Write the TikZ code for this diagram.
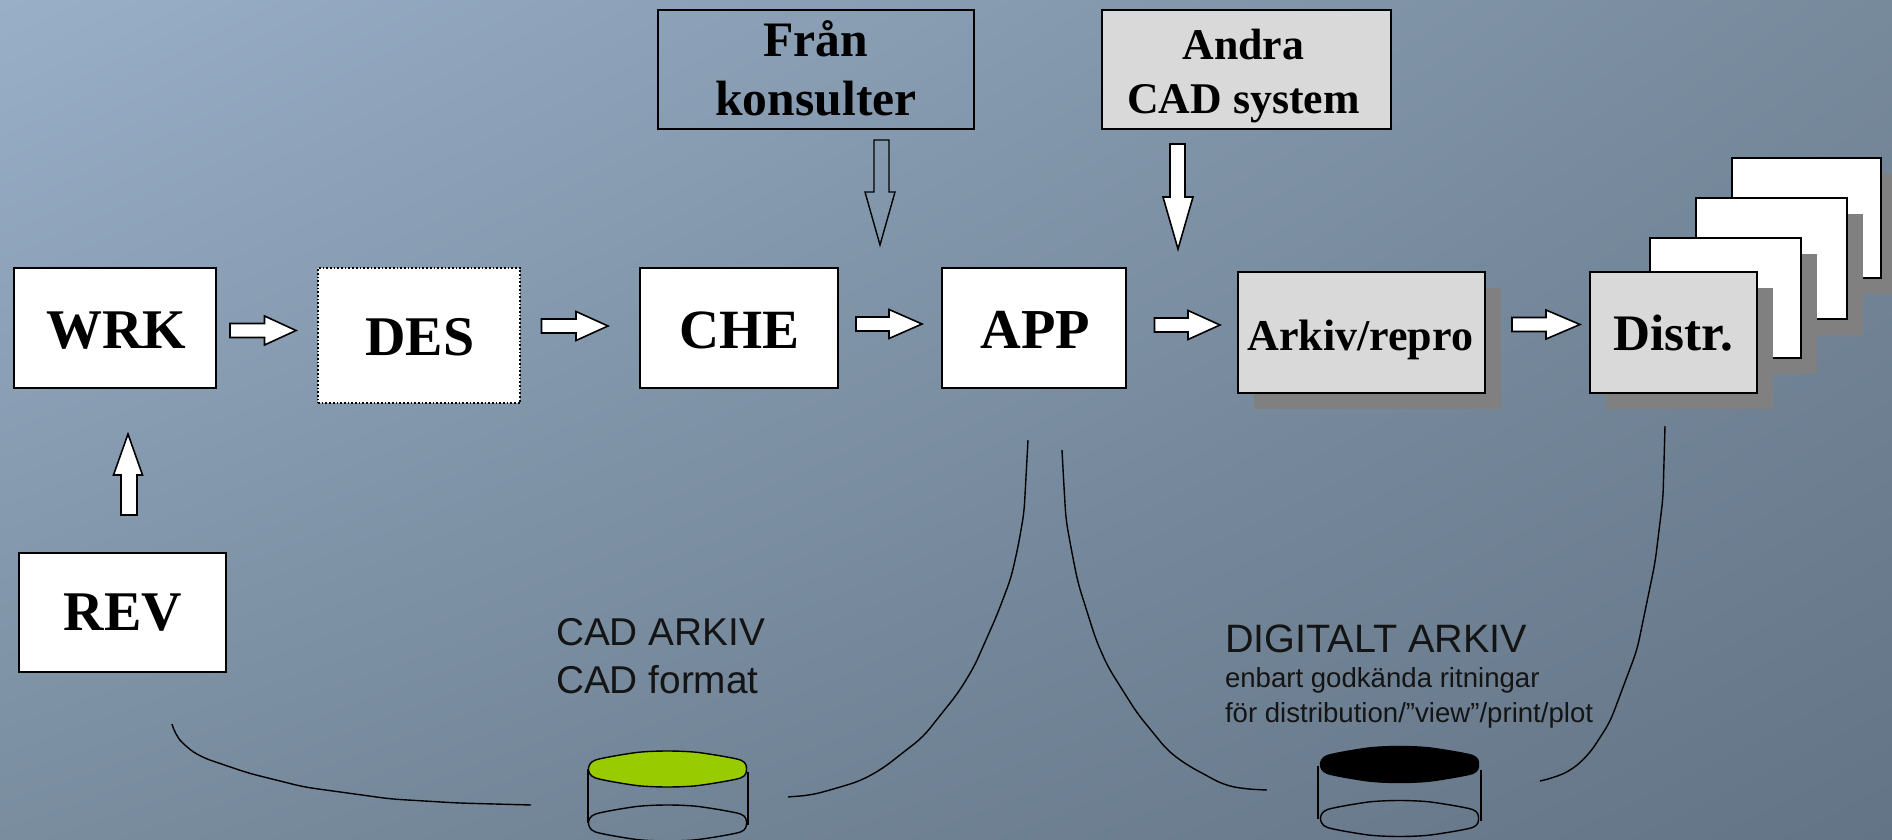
\documentclass[tikz,border=0pt]{standalone}
\usetikzlibrary{shadings}
\usepackage{fontspec}
\setmainfont{Liberation Serif}
\setsansfont{Liberation Sans}
\definecolor{bgTL}{HTML}{99AFC8}
\definecolor{bgTR}{HTML}{778A9C}
\definecolor{bgBL}{HTML}{798D9F}
\definecolor{bgBR}{HTML}{637486}
\definecolor{boxgray}{HTML}{D9D9D9}
\definecolor{shadowgray}{HTML}{808080}
\definecolor{discgreen}{HTML}{99CC00}
\tikzset{
  boxnode/.style={draw=black,line width=.85pt,inner sep=0pt,outer sep=0pt,text height=0pt,text depth=0pt,font=\bfseries},
  whitebox/.style={boxnode,fill=white},
  graybox/.style={boxnode,fill=boxgray},
  openbox/.style={boxnode},
  dotbox/.style={boxnode,fill=white,densely dotted,line width=.7pt},
  shadowbox/.style={fill=shadowgray,draw=none},
  blockarrow/.style={draw=black,fill=white,line width=.8pt,line join=miter},
  openarrow/.style={draw=black,line width=.7pt,line join=miter},
  curve/.style={draw=black,line width=.7pt,line join=round,rounded corners=5pt},
  disc/.style={draw=black,line width=.7pt,line join=round},
  sideline/.style={draw=black,line width=.7pt},
  caption/.style={inner sep=0pt,outer sep=0pt,anchor=base west,font=\sffamily,text=black!92}
}
% name, x1, y1, x2, y2, style, text centre x, baseline y, text
\newcommand\bx[9]{%
  \pgfmathsetmacro\bxcx{(#2+#4)/2}\pgfmathsetmacro\bxcy{(#3+#5)/2}%
  \pgfmathsetmacro\bxw{(#4-#2)*0.5}\pgfmathsetmacro\bxh{(#5-#3)*0.5}%
  \pgfmathsetmacro\bxdx{(#7-\bxcx)*0.5}\pgfmathsetmacro\bxdy{(\bxcy-#8)*0.5}%
  \node[#6,minimum width=\bxw pt,minimum height=\bxh pt] (#1) at (\bxcx,\bxcy)
    {\hspace*{\bxdx pt}\raisebox{\bxdy pt}{\makebox[0pt][c]{#9}}};%
}
\newcommand\shadow[4]{\fill[shadowbox] (#1+16,#2+16) rectangle (#3+16,#4+16);}
\newcommand\sz[1]{\fontsize{#1}{#1}\selectfont}
% right-pointing block arrow: x start, x head base, x tip, y
\newcommand\rarrow[4]{\draw[blockarrow] (#1,#4-7) -- (#2,#4-7) -- (#2,#4-14.5) -- (#3,#4) -- (#2,#4+14.5) -- (#2,#4+7) -- (#1,#4+7) -- cycle;}
\newcommand\cylrim[3]{\draw[disc,#3,shift={(#1,#2)}] plot[smooth cycle,tension=.45] coordinates {(-79,0) (-72,-9) (-31,-16.5) (0,-18) (31,-16.5) (73,-9) (79,0) (73,9) (31,16.5) (0,18) (-31,16.5) (-72,9)};}
\begin{document}
\begin{tikzpicture}[x=0.5pt,y=-0.5pt]
\useasboundingbox (0,0) rectangle (1892,840);
\shade[upper left=bgTL,upper right=bgTR,lower left=bgBL,lower right=bgBR] (0,0) rectangle (1892,840);

% top row
\bx{fran}{658}{10}{974}{129}{openbox}{816}{57}{\sz{24.8}\makebox[0pt][c]{Från}\raisebox{-29.5pt}{\makebox[0pt][c]{konsulter}}}
\bx{andra}{1102}{10}{1391}{129}{graybox}{1240.5}{59}{\sz{21.9}\makebox[0pt][c]{Andra}\raisebox{-27.5pt}{\makebox[0pt][c]{CAD system}}}

% process row
\bx{wrk}{14}{268}{216}{388}{whitebox}{117}{348}{\sz{28}WRK}
\bx{des}{318}{268}{520}{403}{dotbox}{421}{355}{\sz{28}DES}
\bx{che}{640}{268}{838}{388}{whitebox}{740.5}{348}{\sz{27.7}CHE}
\bx{app}{942}{268}{1126}{388}{whitebox}{1036.5}{348}{\sz{28.2}APP}
\shadow{1238}{272}{1485}{393}
\bx{ark}{1238}{272}{1485}{393}{graybox}{1359}{351}{\sz{22}Arkiv/repro}

% stacked sheets
\shadow{1732}{158}{1881}{278}
\bx{sh1}{1732}{158}{1881}{278}{whitebox}{1806}{218}{}
\shadow{1696}{198}{1847}{319}
\bx{sh2}{1696}{198}{1847}{319}{whitebox}{1771}{258}{}
\shadow{1650}{238}{1801}{358}
\bx{sh3}{1650}{238}{1801}{358}{whitebox}{1725}{298}{}
\shadow{1590}{272}{1757}{393}
\bx{dist}{1590}{272}{1757}{393}{graybox}{1673}{351}{\sz{25.6}Distr.}

\bx{rev}{19}{553}{226}{672}{whitebox}{123.5}{630}{\sz{28}REV}

% block arrows
\rarrow{230}{264.5}{296}{330.5}
\rarrow{541.5}{576}{608}{326}
\rarrow{856}{889}{922}{324}
\rarrow{1154.5}{1188}{1220}{325}
\rarrow{1512}{1546}{1580}{324.5}
\draw[blockarrow] (121,515) -- (137,515) -- (137,475) -- (142.5,475) -- (128,434) -- (113.5,475) -- (121,475) -- cycle;
\draw[openarrow] (874,140) -- (889,140) -- (889,192) -- (895,192) -- (880,245) -- (865,192) -- (874,192) -- cycle;
\draw[blockarrow] (1170,144) -- (1185,144) -- (1185,197) -- (1193,197) -- (1178,249) -- (1163,197) -- (1170,197) -- cycle;

% cylinders
\cylrim{667.5}{769}{fill=discgreen}
\cylrim{667.5}{823}{}
\draw[sideline] (588,769) -- (588,823);
\draw[sideline] (748,772) -- (748,825);
\cylrim{1399.5}{764.5}{fill=black}
\cylrim{1399.5}{818.5}{}
\draw[sideline] (1318,766) -- (1318,819);
\draw[sideline] (1481,770) -- (1481,821);

% curves
\draw[curve] (172,724) -- (174.5,734) -- (186,747) -- (201,757) -- (248,773) -- (304,787) -- (391,799) -- (458,803) -- (531,805);
\draw[curve] (788,797) -- (812,795) -- (837,788) -- (860,781) -- (882,769) -- (923,737) -- (958,693) -- (974,667) -- (997,615) -- (1011,578) -- (1018,547) -- (1024,513) -- (1026,477) -- (1028,440);
\draw[curve] (1062,450) -- (1064,487) -- (1066,520) -- (1072,553) -- (1078,583) -- (1096,640) -- (1108,667) -- (1137,713) -- (1168,751) -- (1187,765) -- (1224,785) -- (1245,789) -- (1267,790);
\draw[curve] (1665,426) -- (1663,498) -- (1655,563) -- (1637,650) -- (1610,722) -- (1590,753) -- (1572,770) -- (1553,778) -- (1540,781);

% captions
\node[caption] (cad1) at (556,645) {\sz{19.4}CAD ARKIV};
\node[caption] (cad2) at (556,693) {\sz{19.4}CAD format};
\node[caption] (dig1) at (1225,652) {\sz{19.8}DIGITALT ARKIV};
\node[caption] (dig2) at (1225,687) {\sz{13.8}enbart godkända ritningar};
\node[caption] (dig3) at (1225,722) {\sz{13.8}för distribution/”view”/print/plot};
\end{tikzpicture}
\end{document}
